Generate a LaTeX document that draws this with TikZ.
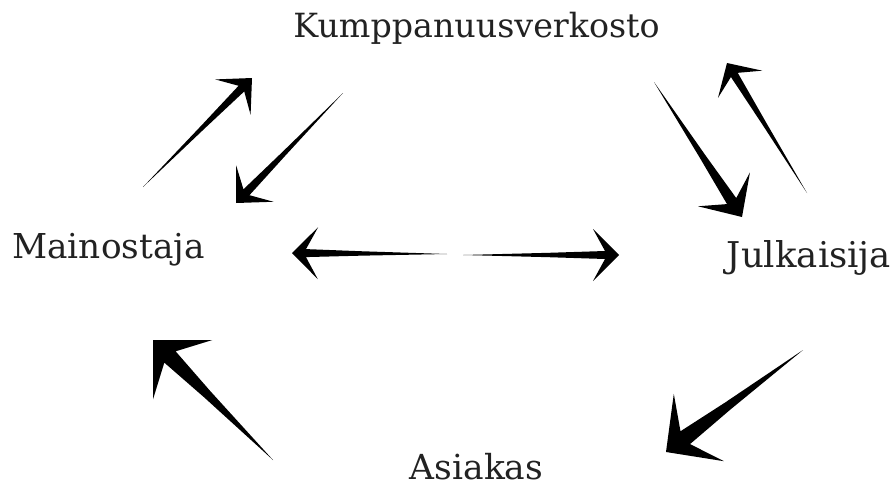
\documentclass[tikz,border=0pt]{standalone}
\usepackage{fontspec}
\setmainfont{DejaVu Serif}
\usetikzlibrary{calc}
\definecolor{txt}{HTML}{222222}
\tikzset{
  lbl/.style={font=\fontsize{#1}{#1}\selectfont, text=txt, inner sep=0pt, anchor=base},
  brush/.style={fill=black, draw=none}
}
% #1 tail, #2 tip, #3 barb distance, #4 barb half-width, #5 notch distance, #6 shaft half-width
\newcommand\brusharrow[6]{%
  \path ($(#2)!#3!(#1)$) coordinate (hb) ($(#2)!#5!(#1)$) coordinate (nb)
        ($(#2)!0.45!(#1)$) coordinate (mb);
  \fill[brush] (#1) -- ($(mb)!0.55*#6!90:(#2)$) -- ($(nb)!#6!90:(#2)$) -- ($(hb)!#4!90:(#2)$) -- (#2)
     -- ($(hb)!#4!-90:(#2)$) -- ($(nb)!#6!-90:(#2)$) -- ($(mb)!0.55*#6!-90:(#2)$) -- cycle;
}
\begin{document}
\begin{tikzpicture}[x=1pt,y=-1pt]
\useasboundingbox[fill=white] (0,0) rectangle (894,488);
\node[lbl=33.3] (kump) at (476.5,37) {Kumppanuusverkosto};
\node[lbl=34.3] (main) at (108.5,258) {Mainostaja};
\node[lbl=35.5] (julk) at (809,267) {Julkaisija};
\node[lbl=34.5] (asia) at (476.5,479) {Asiakas};
% coordinates
\coordinate (aT) at (143,187); \coordinate (aH) at (252,78);
\coordinate (bT) at (343,93);  \coordinate (bH) at (236,203);
\coordinate (cT) at (654,82);  \coordinate (cH) at (742,217);
\coordinate (dT) at (807,193); \coordinate (dH) at (727,63);
\coordinate (eT) at (447,254); \coordinate (eH) at (292,253);
\coordinate (fT) at (463,255); \coordinate (fH) at (619,255);
\coordinate (gT) at (273,460); \coordinate (gH) at (153,340);
\coordinate (hT) at (803,350); \coordinate (hH) at (666,452);
\brusharrow{aT}{aH}{27pt}{25pt}{15pt}{4pt}
\brusharrow{bT}{bH}{27pt}{26pt}{15pt}{4.2pt}
\brusharrow{cT}{cH}{33pt}{31pt}{19pt}{5.5pt}
\brusharrow{dT}{dH}{25pt}{26pt}{14pt}{4pt}
\brusharrow{eT}{eH}{26pt}{26pt}{14pt}{4pt}
\brusharrow{fT}{fH}{26pt}{26pt}{14pt}{4pt}
\brusharrow{gT}{gH}{42pt}{42pt}{24pt}{8pt}
\brusharrow{hT}{hH}{41pt}{42pt}{24pt}{8pt}
\end{tikzpicture}
\end{document}
